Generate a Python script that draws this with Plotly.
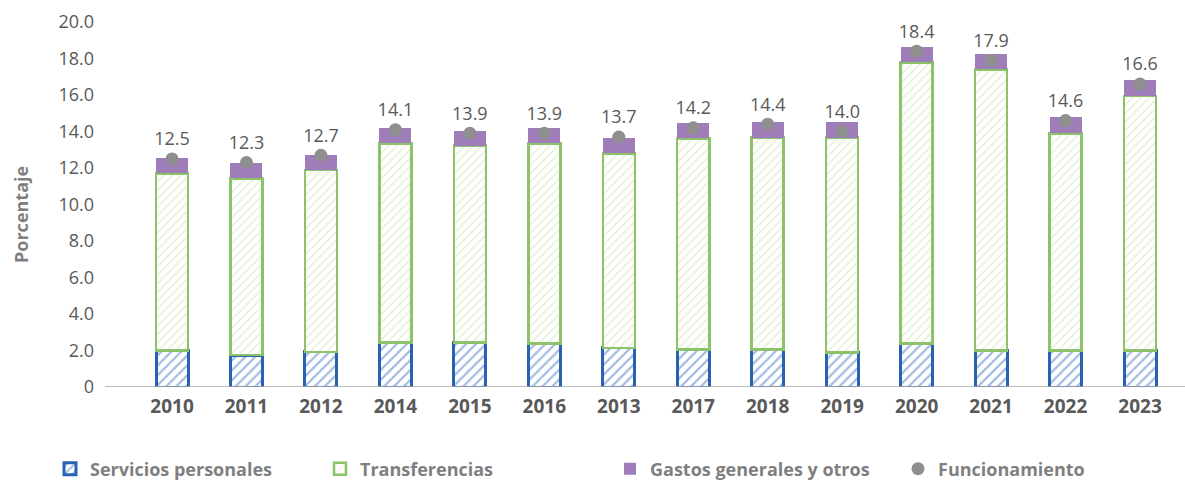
import plotly.graph_objects as go

# Años (en el orden en que se presentan)
years = ["2010", "2011", "2012", "2014", "2015", "2016", "2013",
         "2017", "2018", "2019", "2020", "2021", "2022", "2023"]

# Componentes del gasto de funcionamiento (% del total)
servicios_personales = [2.00, 1.75, 1.93, 2.43, 2.43, 2.39, 2.15,
                        2.06, 2.06, 1.90, 2.39, 1.99, 1.99, 1.99]
transferencias = [9.71, 9.68, 9.96, 10.92, 10.79, 10.96, 10.65,
                  11.57, 11.60, 11.76, 15.40, 15.42, 11.91, 13.96]
gastos_generales = [0.84, 0.84, 0.82, 0.84, 0.81, 0.84, 0.84,
                    0.84, 0.86, 0.86, 0.86, 0.85, 0.89, 0.87]
funcionamiento = [12.5, 12.3, 12.7, 14.1, 13.9, 13.9, 13.7,
                  14.2, 14.4, 14.0, 18.4, 17.9, 14.6, 16.6]

FONT = "Open Sans"
TEXT = "#595959"
LEGEND_TEXT = "#7F7F7F"
BAR_W = 0.43
L_MARGIN, PLOT_W = 105, 1080
T_MARGIN, PLOT_H = 22, 365


def px_to_paper_x(px):
    return (px - L_MARGIN) / PLOT_W


def px_to_paper_y(px):
    return (T_MARGIN + PLOT_H - px) / PLOT_H


fig = go.Figure()

fig.add_trace(go.Bar(
    x=years, y=servicios_personales, name="Servicios personales", width=BAR_W,
    legend="legend",
    marker=dict(
        color="white",
        line=dict(color="#2A62B3", width=3),
        pattern=dict(shape="/", fgcolor="#3A6EC2", bgcolor="white",
                     size=7, solidity=0.3),
    ),
))
fig.add_trace(go.Bar(
    x=years, y=transferencias, name="Transferencias", width=BAR_W,
    legend="legend2",
    marker=dict(
        color="white",
        line=dict(color="#8CC36A", width=2.5),
        pattern=dict(shape="/", fgcolor="#BFDC99", bgcolor="white",
                     size=6, solidity=0.2),
    ),
))
fig.add_trace(go.Bar(
    x=years, y=gastos_generales, name="Gastos generales y otros", width=BAR_W,
    legend="legend3",
    marker=dict(color="#9E7DB8", line=dict(width=0)),
))
fig.add_trace(go.Scatter(
    x=years, y=funcionamiento, name="Funcionamiento",
    legend="legend4",
    mode="markers+text",
    marker=dict(color="#8F8F90", size=13),
    texttemplate="%{y:.1f}", textposition="top center",
    textfont=dict(family=FONT, size=18, color=TEXT),
    cliponaxis=False,
))

# Línea del eje horizontal
fig.add_shape(type="line", xref="paper", yref="y",
              x0=0, x1=1, y0=0, y1=0,
              line=dict(color="#A6A6A6", width=1.5))

# Título del eje vertical
fig.add_annotation(text="<b>Porcentaje</b>", textangle=-90,
                   xref="paper", yref="paper",
                   x=px_to_paper_x(21), y=px_to_paper_y(215),
                   xanchor="center", yanchor="middle", showarrow=False,
                   font=dict(family=FONT, size=18, color=LEGEND_TEXT))

# Una leyenda por serie, repartidas a lo ancho bajo el gráfico
legend_style = dict(
    orientation="h", yanchor="middle", y=px_to_paper_y(469), xanchor="left",
    font=dict(family=FONT, size=18, color=LEGEND_TEXT, weight="bold"),
    bgcolor="rgba(0,0,0,0)",
)
legend_text_x = [50, 320, 610, 898]

fig.update_layout(
    width=1185, height=484,
    margin=dict(l=L_MARGIN, r=0, t=T_MARGIN, b=484 - T_MARGIN - PLOT_H,
                autoexpand=False),
    barmode="stack",
    plot_bgcolor="white", paper_bgcolor="white",
    font=dict(family=FONT, color=TEXT),
    showlegend=True,
    legend=dict(x=px_to_paper_x(legend_text_x[0]), **legend_style),
    legend2=dict(x=px_to_paper_x(legend_text_x[1]), **legend_style),
    legend3=dict(x=px_to_paper_x(legend_text_x[2]), **legend_style),
    legend4=dict(x=px_to_paper_x(legend_text_x[3]), **legend_style),
    xaxis=dict(
        type="category", range=[-0.9, 13.604],
        showline=False, showgrid=False, ticks="",
        tickfont=dict(family=FONT, size=19, color=TEXT, weight="bold"),
        ticklabelstandoff=6,
    ),
    yaxis=dict(
        range=[0, 20], tickvals=[0, 2, 4, 6, 8, 10, 12, 14, 16, 18, 20],
        ticktext=["0", "2.0", "4.0", "6.0", "8.0", "10.0", "12.0",
                  "14.0", "16.0", "18.0", "20.0"],
        showgrid=False, zeroline=False, showline=False, ticks="",
        tickfont=dict(family=FONT, size=18, color=TEXT),
        ticklabelstandoff=10,
    ),
)

fig.write_html("out.html")
